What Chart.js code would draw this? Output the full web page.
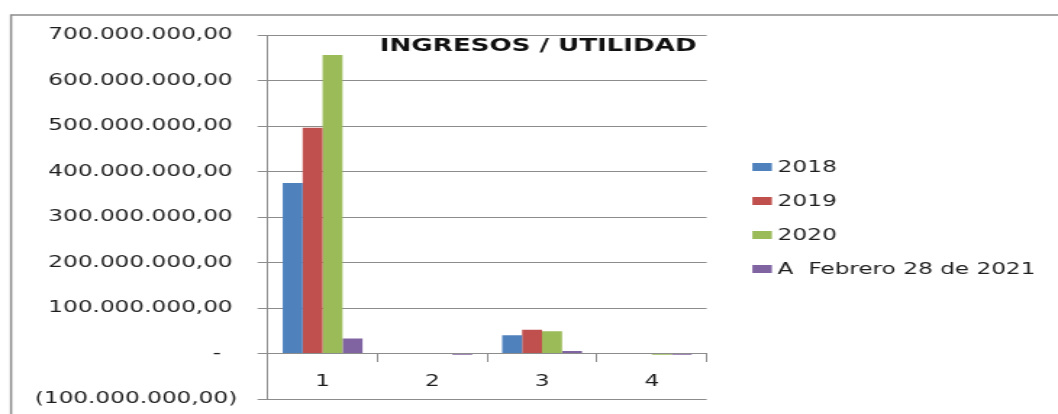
<!DOCTYPE html>
<html>
<head>
<meta charset="utf-8">
<script src="https://cdn.jsdelivr.net/npm/chart.js@4.4.0/dist/chart.umd.min.js"></script>
<style>
  html, body { margin: 0; padding: 0; background: #ffffff; overflow: hidden; }
  #wrap { width: 730px; height: 414px; transform: scaleX(1.4493); transform-origin: 0 0; }
  #c { width: 730px; height: 414px; display: block; }
</style>
</head>
<body>
<div id="wrap"><canvas id="c" width="730" height="414"></canvas></div>
<script>
// ---- data ----
const categories = ["1", "2", "3", "4"];
const seriesNames = ["2018", "2019", "2020", "A  Febrero 28 de 2021"];
const values2018 = [375000000, 0, 40000000, 0];
const values2019 = [496000000, 0, 52000000, 0];
const values2020 = [656000000, 0, 49000000, -2500000];
const valuesFeb2021 = [33000000, -2500000, 5500000, -3000000];
const yTicksMin = -100000000;
const yTicksMax = 700000000;
const yTickStep = 100000000;
const chartTitle = "INGRESOS / UTILIDAD";

const seriesColors = ["#4F81BD", "#C0504D", "#9BBB59", "#8064A2"];
const seriesValues = [values2018, values2019, values2020, valuesFeb2021];

function fmtNumber(v) {
  if (v === 0) return "-\u2002\u2009";
  const abs = Math.abs(v);
  const intPart = Math.floor(abs).toString().replace(/\B(?=(\d{3})+(?!\d))/g, ".");
  const s = intPart + ",00";
  return v < 0 ? "(" + s + ")" : s + "\u2009";
}

const FONT = "'DejaVu Sans', Verdana, sans-serif";
const TEXT = "#1e1e1e";
const GRID = "#8c8c8c";

const framePlugin = {
  id: "frame",
  beforeDraw(chart) {
    const ctx = chart.ctx;
    ctx.save();
    ctx.strokeStyle = "#8c8c8c";
    ctx.lineWidth = 1.5;
    ctx.strokeRect(7.6, 15, 900, 600);
    ctx.restore();
  }
};

const titlePlugin = {
  id: "cornerTitle",
  afterDatasetsDraw(chart) {
    const ctx = chart.ctx;
    const a = chart.chartArea;
    ctx.save();
    ctx.font = "bold 18px " + FONT;
    ctx.fillStyle = "#111111";
    ctx.textAlign = "right";
    ctx.textBaseline = "alphabetic";
    ctx.fillText(chartTitle, a.right - 7, a.top + 16);
    ctx.restore();
  }
};

const legendPlugin = {
  id: "sideLegend",
  afterDraw(chart) {
    const ctx = chart.ctx;
    const a = chart.chartArea;
    ctx.save();
    ctx.font = "16px " + FONT;
    ctx.textBaseline = "middle";
    ctx.textAlign = "left";
    const x0 = a.right + 31.5;
    const y0 = 167;
    chart.data.datasets.forEach((ds, i) => {
      const y = y0 + i * 34;
      ctx.fillStyle = ds.backgroundColor;
      ctx.fillRect(x0, y - 4, 13.5, 8);
      ctx.fillStyle = TEXT;
      ctx.fillText(ds.label, x0 + 17.5, y + 0.5);
    });
    ctx.restore();
  }
};

new Chart(document.getElementById("c"), {
  type: "bar",
  data: {
    labels: categories,
    datasets: seriesNames.map((name, i) => ({
      label: name,
      data: seriesValues[i],
      backgroundColor: seriesColors[i],
      borderWidth: 0,
      categoryPercentage: 0.727,
      barPercentage: 1.0
    }))
  },
  options: {
    responsive: false,
    animation: false,
    devicePixelRatio: 1,
    layout: { padding: { left: 10, right: 242.4, top: 35, bottom: 15 } },
    plugins: {
      legend: { display: false },
      title: { display: false },
      tooltip: { enabled: false }
    },
    scales: {
      x: {
        position: { y: 0 },
        grid: { drawOnChartArea: false, drawTicks: true, tickLength: 8, color: GRID, lineWidth: 1 },
        border: { display: true, color: GRID, width: 1 },
        ticks: { color: TEXT, font: { family: FONT, size: 16 }, padding: 11 }
      },
      y: {
        min: yTicksMin,
        max: yTicksMax,
        grid: { color: GRID, lineWidth: 1, drawTicks: true, tickLength: 7 },
        border: { display: true, color: GRID, width: 1 },
        ticks: {
          stepSize: yTickStep,
          color: TEXT,
          font: { family: FONT, size: 16, lineHeight: 0.1 },
          padding: 14,
          callback: (v) => fmtNumber(v)
        }
      }
    }
  },
  plugins: [framePlugin, titlePlugin, legendPlugin]
});
</script>
</body>
</html>
